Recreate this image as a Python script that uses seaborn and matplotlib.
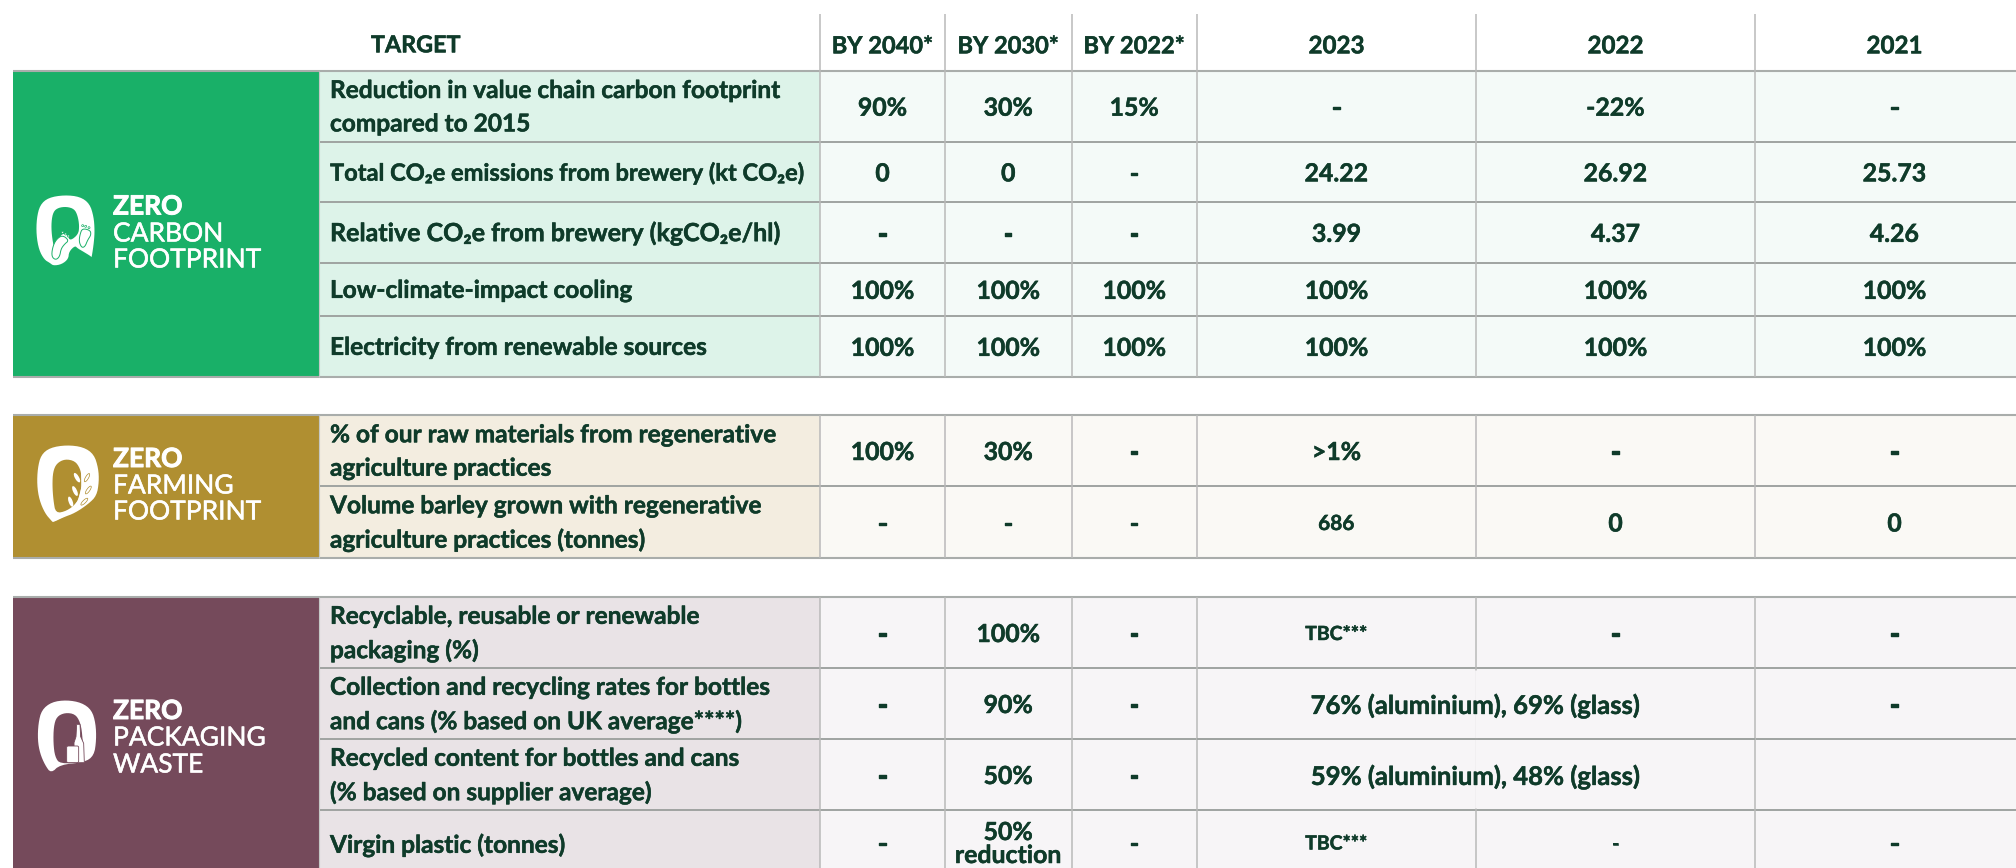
import numpy as np
import seaborn as sns
import matplotlib.pyplot as plt
import matplotlib.patheffects as pe
from matplotlib.colors import ListedColormap
from matplotlib.patches import Polygon, Ellipse, FancyBboxPatch
from matplotlib.transforms import Affine2D

# Table content
headers = ["BY 2040*", "BY 2030*", "BY 2022*", "2023", "2022", "2021"]
row_labels = [
    "Reduction in value chain carbon footprint\ncompared to 2015",
    "Total CO₂e emissions from brewery (kt CO₂e)",
    "Relative CO₂e from brewery (kgCO₂e/hl)",
    "Low-climate-impact cooling",
    "Electricity from renewable sources",
    "% of our raw materials from regenerative\nagriculture practices",
    "Volume barley grown with regenerative\nagriculture practices (tonnes)",
    "Recyclable, reusable or renewable\npackaging (%)",
    "Collection and recycling rates for bottles\nand cans (% based on UK average****)",
    "Recycled content for bottles and cans\n(% based on supplier average)",
    "Virgin plastic (tonnes)",
]
by_2040 = ["90%", "0", "-", "100%", "100%", "100%", "-", "-", "-", "-", "-"]
by_2030 = ["30%", "0", "-", "100%", "100%", "30%", "-", "100%", "90%", "50%", "50%\nreduction"]
by_2022 = ["15%", "-", "-", "100%", "100%", "-", "-", "-", "-", "-", "-"]
val_2023 = ["-", "24.22", "3.99", "100%", "100%", ">1%", "686", "TBC***", None, None, "TBC***"]
val_2022 = ["-22%", "26.92", "4.37", "100%", "100%", "-", "0", "-", None, None, "-"]
val_2021 = ["-", "25.73", "4.26", "100%", "100%", "-", "0", "-", "-", "", "-"]
merged_vals = {8: "76% (aluminium), 69% (glass)", 9: "59% (aluminium), 48% (glass)"}

groups = [("CARBON", "FOOTPRINT"), ("FARMING", "FOOTPRINT"), ("PACKAGING", "WASTE")]
band_colors = ["#19B068", "#B08F31", "#754A5B"]
label_colors = ["#DDF3E9", "#F3EDE0", "#E9E3E6"]
cell_colors = ["#F4FAF8", "#FAF9F5", "#F7F5F7"]
text_color = "#0F3B2A"

# pixel edges of the grid (columns: margin, band, label, six values)
col_px = [0, 13, 319, 820, 945, 1071.5, 1197, 1476, 1755, 2034]
row_px = [0, 70.7, 141.7, 202, 262.7, 316, 376.7, 415, 486, 558, 597, 668, 739, 810, 878]
# table row index of each label
row_of = [1, 2, 3, 4, 5, 7, 8, 10, 11, 12, 13]
group_of = [0, 0, 0, 0, 0, 1, 1, 2, 2, 2, 2]

sns.set_theme(style="white")
plt.rcParams["font.family"] = ["Lato", "DejaVu Sans"]

palette = ["#FFFFFF"] + band_colors + label_colors + cell_colors
grid = np.zeros((len(row_px) - 1, len(col_px) - 1))
for r, g in zip(row_of, group_of):
    grid[r, 1] = 1 + g
    grid[r, 2] = 4 + g
    grid[r, 3:] = 7 + g

fig = plt.figure(figsize=(20.16, 8.68), dpi=100)
ax = fig.add_axes([0, 0, 1, 1])
sns.heatmap(grid, cmap=ListedColormap(palette), vmin=-0.5, vmax=len(palette) - 0.5,
            cbar=False, xticklabels=False, yticklabels=False, ax=ax)

# uneven cell sizes: stretch the heatmap's index axes onto the pixel edges
col_idx = np.arange(len(col_px))
row_idx = np.arange(len(row_px))
ax.set_xscale("function", functions=(lambda v: np.interp(v, col_idx, col_px),
                                     lambda v: np.interp(v, col_px, col_idx)))
ax.set_yscale("function", functions=(lambda v: np.interp(v, row_idx, row_px),
                                     lambda v: np.interp(v, row_px, row_idx)))
ax.set_xlim(0, np.interp(2016, col_px, col_idx))
ax.set_ylim(np.interp(868, row_px, row_idx), 0)
ax.axis("off")


def put(x, r, s, size, stroke=0.35, ha="center", dy=2.0, linespacing=1.0):
    # x is a column index, r a row index, dy a nudge in pixels
    y = np.interp(np.interp(r, row_idx, row_px) + dy, row_px, row_idx)
    t = ax.text(x, y, s, ha=ha, va="center", fontsize=size, fontweight="bold", color=text_color,
                linespacing=linespacing)
    t.set_path_effects([pe.withStroke(linewidth=stroke, foreground=text_color)])
    return t


# header
put(np.interp(416, col_px, col_idx), 0.62, "TARGET", 16.8)
for j, h in enumerate(headers):
    put(3.5 + j, 0.62, h, 17 if j < 3 else 17.4)

# row labels and values
label_x = np.interp(330, col_px, col_idx)
label_size = {1: 17, 2: 18}
columns = [by_2040, by_2030, by_2022, val_2023, val_2022, val_2021]
for i, r in enumerate(row_of):
    put(label_x, r + 0.5, row_labels[i], label_size.get(i, 17.6), ha="left", dy=1.0, linespacing=1.55)
    for j, col in enumerate(columns):
        val = col[i]
        if val is None or val == "":
            continue
        size, stroke = 17.9, 0.35
        if val == "686":
            size = 15
        if val == "TBC***":
            size = 14
        if val == "-":
            stroke = 1.0
        if val == "-" and i == 10 and j == 4:
            size, stroke = 13, 0.4
        put(3.5 + j, r + 0.5, val, size, stroke=stroke, dy=0 if i == 10 else 2.0)
    if i in merged_vals:
        put(7, r + 0.5, merged_vals[i], 18.5)

# rules
h_col = "#A9ADAB"
v_col = "#B9B9B9"
for r in [1, 7, 10]:
    ax.hlines(r, 1, col_idx[-1], color=h_col, lw=1.5)
for r in [2, 3, 4, 5, 8, 11, 12, 13]:
    ax.hlines(r, 2, col_idx[-1], color="#9FA3A1", lw=1.4)
for r in [6, 9]:
    ax.hlines(r, 1, col_idx[-1], color=h_col, lw=1.5)
for x in [3, 4, 5, 6, 7, 8]:
    ax.vlines(x, np.interp(14, row_px, row_idx), 6, color=v_col, lw=1.1)
    ax.vlines(x, 7, 9, color=v_col, lw=1.1)
    ax.vlines(x, 10, len(row_px) - 1, color=v_col, lw=1.1)
# merged 2023/2022 cells have no divider: paint it out
ax.vlines(7, 11.03, 12.97, color=cell_colors[2], lw=2)
ax.hlines(12, 6, 8, color="#9FA3A1", lw=1.4)
for a, b in [(1, 6), (7, 9), (10, len(row_px) - 1)]:
    ax.vlines(2, a, b, color="#C4C8C6", lw=0.8)

# band titles
pix = Affine2D().scale(1, -1).translate(0, 868)
ty = [[206.5, 234, 260], [459, 486, 512], [711, 738, 765]]
for g, (a, b) in enumerate(groups):
    for y, s, w in zip(ty[g], ["ZERO", a, b], ["bold", "normal", "normal"]):
        t = fig.text(113 / 2016, 1 - y / 868, s, ha="left", va="center", fontsize=19, fontweight=w, color="white")
        t.set_path_effects([pe.withStroke(linewidth=0.7 if w == "bold" else 0.35, foreground="white")])


# logos, drawn in image pixels from a 270 unit crop
def logo_xy(pts, ox, oy, smooth=2):
    xy = np.array([(ox + x / 3, oy + y / 3) for x, y in pts])
    for _ in range(smooth):
        nxt = np.roll(xy, -1, axis=0)
        xy = np.column_stack([0.75 * xy + 0.25 * nxt, 0.25 * xy + 0.75 * nxt]).reshape(-1, 2)
    return xy


def blob(pts, ox, oy, color, lw=0, ec="none", smooth=2):
    fig.add_artist(Polygon(logo_xy(pts, ox, oy, smooth), closed=True, fc=color, ec=ec, lw=lw, transform=pix))


def grain(x, y, w, h, ang, ox, oy, fc, ec="none"):
    fig.add_artist(Ellipse((ox + x / 3, oy + y / 3), w / 3, h / 3, angle=-ang, fc=fc, ec=ec, lw=0.5, transform=pix))


# carbon
ox, oy, bg = 25, 185, band_colors[0]
blob([(75, 234), (58, 224), (42, 195), (34, 150), (35, 100), (45, 60), (70, 38), (118, 30), (165, 35), (194, 56),
      (206, 95), (209, 135), (207, 170), (200, 218), (198, 214), (175, 200), (158, 190), (150, 182), (132, 200),
      (130, 222), (110, 238), (85, 242)], ox, oy, "white")
blob([(88, 195), (80, 150), (79, 110), (85, 80), (100, 68), (125, 65), (148, 72), (158, 92), (163, 122), (160, 148),
      (135, 168), (128, 150), (108, 145)], ox, oy, bg)
blob([(112, 150), (132, 166), (118, 178), (108, 192), (104, 215), (92, 225), (80, 215), (82, 190), (92, 165)],
     ox, oy, "white", 0.7, bg)
blob([(172, 130), (196, 136), (198, 150), (188, 165), (180, 185), (170, 188), (162, 170), (165, 148)],
     ox, oy, "white", 0.7, bg)
for x, y in [(113, 142), (122, 147), (130, 153), (173, 122), (182, 124), (192, 128)]:
    grain(x, y, 6, 6, 0, ox, oy, "white", bg)

# farming
ox, oy, bg = 25, 435, band_colors[1]
blob([(84, 262), (80, 258), (60, 235), (43, 195), (36, 150), (38, 100), (48, 60), (75, 38), (125, 30), (175, 36),
      (207, 58), (220, 100), (222, 140), (215, 182), (190, 207), (150, 234), (115, 247)], ox, oy, "white")
blob([(92, 235), (85, 195), (82, 150), (84, 110), (95, 85), (120, 72), (150, 78), (165, 100), (170, 125), (168, 170),
      (155, 205), (125, 228)], ox, oy, bg)
stalk = [(84, 258), (130, 236), (160, 200), (172, 155), (170, 105)]
fig.add_artist(plt.Polygon(logo_xy(stalk, ox, oy, 0), closed=False, fill=False, ec="white", lw=1.0, transform=pix))
for x, y, a in [(156, 128, 120), (150, 168, 115), (137, 200, 110)]:
    grain(x, y, 32, 12, a, ox, oy, "white")
for x, y, a in [(186, 128, 60), (190, 165, 55), (178, 200, 45)]:
    grain(x, y, 28, 9, a, ox, oy, "white", bg)

# packaging
ox, oy, bg = 25, 690, band_colors[2]
blob([(78, 250), (60, 225), (45, 190), (38, 150), (40, 100), (50, 60), (80, 36), (125, 30), (170, 38), (200, 60),
      (212, 100), (214, 150), (207, 197), (178, 217), (105, 224)], ox, oy, "white")
blob([(105, 222), (90, 200), (85, 160), (86, 110), (95, 80), (120, 68), (150, 72), (165, 95), (172, 130), (176, 216)],
     ox, oy, bg)
blob([(155, 103), (165, 103), (167, 140), (176, 160), (178, 218), (148, 218), (147, 158), (153, 140)],
     ox, oy, "white", 0.6, bg, smooth=0)
fig.add_artist(FancyBboxPatch((ox + 125 / 3, oy + 168 / 3), 36 / 3, 50 / 3, boxstyle="round,pad=0,rounding_size=1.5",
                              fc="white", ec=bg, lw=0.6, transform=pix))

fig.savefig("out.png", dpi=100)
